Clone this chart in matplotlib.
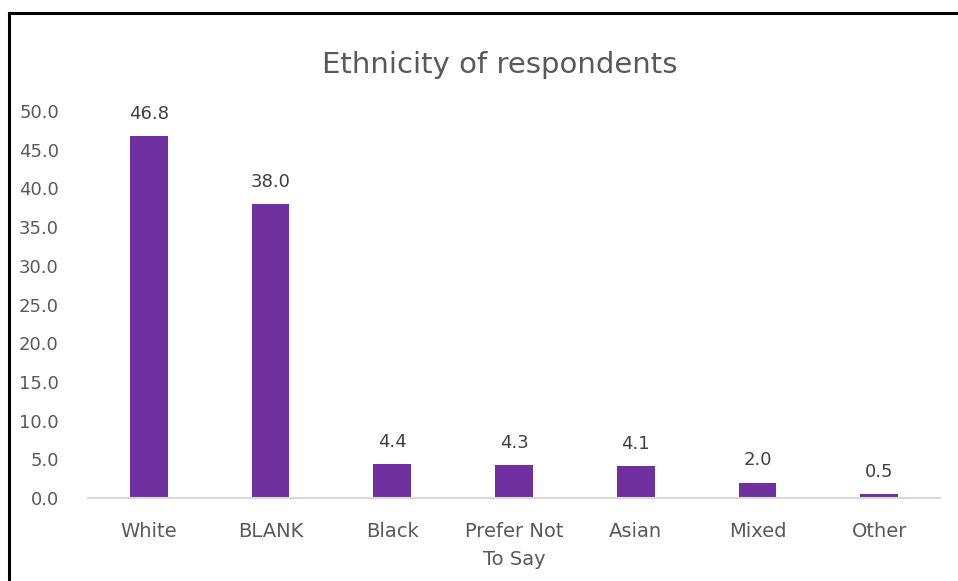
import matplotlib
matplotlib.use("Agg")
import matplotlib.pyplot as plt
from matplotlib.lines import Line2D

categories = ["White", "BLANK", "Black", "Prefer Not\nTo Say", "Asian", "Mixed", "Other"]
values = [46.8, 38.0, 4.4, 4.3, 4.1, 2.0, 0.5]
yticks = [0, 5, 10, 15, 20, 25, 30, 35, 40, 45, 50]

plt.rcParams["font.family"] = ["DejaVu Sans"]
text_col = "#595959"

W, H = 958, 581
fig = plt.figure(figsize=(W / 100, H / 100), dpi=100)
ax = fig.add_axes([88 / W, 1 - 498 / H, (940 - 88) / W, (498 - 111) / H])

x = range(len(categories))
ax.bar(x, values, width=0.31, color="#7030A0", zorder=2)
for xi, v in zip(x, values):
    ax.text(xi, v + 1.7, f"{v:.1f}", ha="center", va="bottom",
            fontsize=13, color="#404040")

ax.set_xlim(-0.5, len(categories) - 0.5)
ax.set_ylim(0, 50)
ax.set_yticks(yticks)
ax.set_yticklabels([f"{t:.1f}" for t in yticks])
ax.set_xticks(list(x))
ax.set_xticklabels(categories, linespacing=1.6)
ax.tick_params(axis="both", length=0, colors=text_col)
ax.tick_params(axis="y", labelsize=13, pad=21)
ax.tick_params(axis="x", labelsize=14, pad=17)
for s in ["top", "right", "left"]:
    ax.spines[s].set_visible(False)
ax.spines["bottom"].set_color("#d9d9d9")
ax.spines["bottom"].set_linewidth(1.5)

fig.text(500 / W, 1 - 65 / H, "Ethnicity of respondents", ha="center", va="center",
         fontsize=21, color=text_col)

# frame lines around the chart area
fig.add_artist(Line2D([8.5 / W, 8.5 / W], [0, 1 - 12.5 / H], color="black", lw=2.2,
                      transform=fig.transFigure))
fig.add_artist(Line2D([8.5 / W, 1], [1 - 12.5 / H, 1 - 12.5 / H], color="black", lw=2.2,
                      transform=fig.transFigure))

fig.savefig("out.png", dpi=100)
